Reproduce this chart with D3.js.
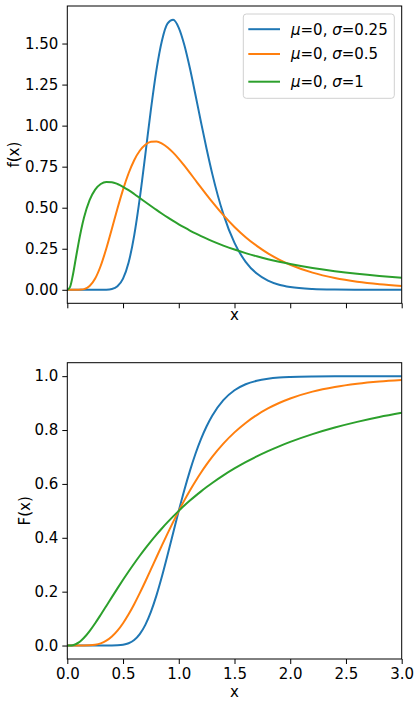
<!DOCTYPE html>
<html>
<head>
<meta charset="utf-8">
<script src="https://cdn.jsdelivr.net/npm/d3@7"></script>
<style>
  body { margin: 0; background: #fff; }
  svg { display: block; }
  .tick line { stroke: #000; }
</style>
</head>
<body>
<svg id="chart" width="420" height="707"></svg>
<script>
// x positions where the curves were read
var xs = [0, 0.025, 0.05, 0.075, 0.1, 0.125, 0.15, 0.2, 0.25, 0.3, 0.35, 0.4, 0.45, 0.5, 0.55, 0.6,
  0.65, 0.7, 0.75, 0.8, 0.85, 0.9, 0.95, 1.0, 1.05, 1.1, 1.15, 1.2, 1.25, 1.3, 1.4, 1.5, 1.6,
  1.7, 1.8, 1.9, 2.0, 2.2, 2.4, 2.6, 2.8, 3.0];

var labels = ["σ=0.25", "σ=0.5", "σ=1"];
var colors = ["#1f77b4", "#ff7f0e", "#2ca02c"];

// density f(x)
var pdf025 = [0, 0, 0, 0, 0, 0, 0, 0, 0, 0, 0.0007, 0.0048, 0.0216, 0.0684, 0.1663, 0.3299,
  0.5562, 0.8237, 1.0973, 1.3396, 1.5198, 1.6223, 1.6448, 1.5958, 1.4911, 1.3491, 1.1868, 1.0194, 0.8573, 0.7077, 0.4607, 0.2855, 0.1704,
  0.0987, 0.0559, 0.0311, 0.0171, 0.0050, 0.0014, 0.0004, 0.0001, 0];
var pdf05 = [0, 0, 0, 0, 0.0002, 0.0011, 0.0040, 0.0225, 0.0684, 0.1465, 0.2516, 0.3721, 0.4953, 0.6104, 0.7098, 0.7892,
  0.8469, 0.8837, 0.9015, 0.9028, 0.8904, 0.8671, 0.8355, 0.7979, 0.7563, 0.7123, 0.6672, 0.6221, 0.5778, 0.5348, 0.4544, 0.3829, 0.3206,
  0.2673, 0.2221, 0.1842, 0.1526, 0.1046, 0.0718, 0.0494, 0.0342, 0.0238];
var pdf1 = [0, 0.0178, 0.0898, 0.1859, 0.2815, 0.3673, 0.4400, 0.5463, 0.6104, 0.6442, 0.6570, 0.6555, 0.6445, 0.6275, 0.6067, 0.5836,
  0.5594, 0.5348, 0.5104, 0.4864, 0.4632, 0.4408, 0.4194, 0.3989, 0.3795, 0.3610, 0.3435, 0.3270, 0.3113, 0.2965, 0.2693, 0.2450, 0.2233,
  0.2039, 0.1865, 0.1709, 0.1569, 0.1329, 0.1133, 0.0972, 0.0839, 0.0727];

// cumulative F(x)
var cdf025 = [0, 0, 0, 0, 0, 0, 0, 0, 0, 0, 0.00001, 0.0001, 0.0007, 0.0028, 0.0084, 0.0205,
  0.0424, 0.0768, 0.1249, 0.1861, 0.2578, 0.3367, 0.4187, 0.5, 0.5774, 0.6485, 0.7120, 0.7671, 0.8139, 0.8530, 0.9108, 0.9476, 0.9700,
  0.9831, 0.9906, 0.9949, 0.9972, 0.9992, 0.9998, 0.9999, 1.0, 1.0];
var cdf05 = [0, 0, 0, 0, 0, 0.00002, 0.00007, 0.0006, 0.0028, 0.0080, 0.0179, 0.0334, 0.0551, 0.0828, 0.1159, 0.1535,
  0.1945, 0.2378, 0.2825, 0.3277, 0.3726, 0.4165, 0.4591, 0.5, 0.5389, 0.5756, 0.6101, 0.6423, 0.6723, 0.7001, 0.7495, 0.7913, 0.8264,
  0.8557, 0.8801, 0.9004, 0.9172, 0.9426, 0.9600, 0.9720, 0.9803, 0.9860];
var cdf1 = [0, 0.0001, 0.0014, 0.0048, 0.0107, 0.0188, 0.0289, 0.0538, 0.0828, 0.1143, 0.1469, 0.1798, 0.2123, 0.2441, 0.2750, 0.3047,
  0.3333, 0.3607, 0.3868, 0.4117, 0.4355, 0.4580, 0.4795, 0.5, 0.5195, 0.5380, 0.5556, 0.5723, 0.5883, 0.6035, 0.6318, 0.6574, 0.6808,
  0.7022, 0.7217, 0.7395, 0.7559, 0.7848, 0.8093, 0.8303, 0.8484, 0.8640];

var xTicks = [0, 0.5, 1.0, 1.5, 2.0, 2.5, 3.0];
var pdfTicks = [0, 0.25, 0.5, 0.75, 1.0, 1.25, 1.5];
var cdfTicks = [0, 0.2, 0.4, 0.6, 0.8, 1.0];

var FONT = "DejaVu Sans";
var fontSize = 15;
var svg = d3.select("#chart").attr("font-family", FONT);
var left = 67.3, right = 401.7;

var x = d3.scaleLinear().domain([0, 3]).range([left, right]);

function styleAxis(g) {
  g.attr("font-size", fontSize).attr("font-family", FONT);
  g.select(".domain").remove();
  g.selectAll(".tick text").attr("fill", "#000").attr("font-family", FONT);
}

function panel(opts) {
  var y = d3.scaleLinear().domain(opts.domain).range([opts.bottom, opts.top]);
  var g = svg.append("g");

  var line = d3.line()
      .curve(d3.curveMonotoneX)
      .x(function(d, i) { return x(xs[i]); })
      .y(function(d) { return y(d); });

  g.append("defs").append("clipPath")
      .attr("id", opts.id)
      .append("rect")
      .attr("x", left).attr("y", opts.top)
      .attr("width", right - left).attr("height", opts.bottom - opts.top);

  opts.series.forEach(function(s, i) {
    g.append("path")
        .datum(s)
        .attr("clip-path", "url(#" + opts.id + ")")
        .attr("fill", "none")
        .attr("stroke", colors[i])
        .attr("stroke-width", 2)
        .attr("d", line);
  });

  var xAxis = d3.axisBottom(x).tickValues(xTicks).tickSize(5).tickSizeOuter(0).tickPadding(4)
      .tickFormat(opts.xLabels ? d3.format(".1f") : function() { return ""; });
  g.append("g")
      .attr("transform", "translate(0," + opts.bottom + ")")
      .call(xAxis)
      .call(styleAxis);

  var yAxis = d3.axisLeft(y).tickValues(opts.ticks).tickSize(5).tickSizeOuter(0).tickPadding(4)
      .tickFormat(d3.format(opts.fmt));
  g.append("g")
      .attr("transform", "translate(" + left + ",0)")
      .call(yAxis)
      .call(styleAxis);

  g.append("rect")
      .attr("x", left).attr("y", opts.top)
      .attr("width", right - left).attr("height", opts.bottom - opts.top)
      .attr("fill", "none")
      .attr("stroke", "#000")
      .attr("stroke-width", 1);

  g.append("text")
      .attr("x", (left + right) / 2)
      .attr("y", opts.bottom + opts.xLabelOffset)
      .attr("text-anchor", "middle")
      .attr("font-family", FONT)
      .attr("font-size", fontSize)
      .text("x");

  g.append("text")
      .attr("transform", "translate(" + opts.yLabelX + "," + (opts.top + opts.bottom) / 2 + ") rotate(-90)")
      .attr("text-anchor", "middle")
      .attr("font-family", FONT)
      .attr("font-size", fontSize)
      .text(opts.yLabel);

  return g;
}

panel({ id: "clip1", top: 6, bottom: 303.3, domain: [-0.0823, 1.7287], series: [pdf025, pdf05, pdf1],
  ticks: pdfTicks, fmt: ".2f", xLabels: false, xLabelOffset: 16.5, yLabel: "f(x)", yLabelX: 19 });
panel({ id: "clip2", top: 362.7, bottom: 659, domain: [-0.05, 1.05], series: [cdf025, cdf05, cdf1],
  ticks: cdfTicks, fmt: ".1f", xLabels: true, xLabelOffset: 38, yLabel: "F(x)", yLabelX: 30 });

// legend
var legend = svg.append("g");
legend.append("rect")
    .attr("x", 243.3).attr("y", 14)
    .attr("width", 151).attr("height", 84.3)
    .attr("rx", 3)
    .attr("fill", "#fff").attr("fill-opacity", 0.8)
    .attr("stroke", "#d0d0d0");

var rowY = [29.2, 54, 81.7];
labels.forEach(function(lab, i) {
  legend.append("line")
      .attr("x1", 248.3).attr("x2", 280)
      .attr("y1", rowY[i]).attr("y2", rowY[i])
      .attr("stroke", colors[i]).attr("stroke-width", 2);
  var t = legend.append("text")
      .attr("x", 291).attr("y", rowY[i] + 5.3)
      .attr("font-family", FONT)
      .attr("font-size", fontSize);
  t.append("tspan").attr("font-style", "italic").text("μ");
  t.append("tspan").text("=0, ");
  t.append("tspan").attr("font-style", "italic").text("σ");
  t.append("tspan").text(lab.slice(1));
});
</script>
</body>
</html>
